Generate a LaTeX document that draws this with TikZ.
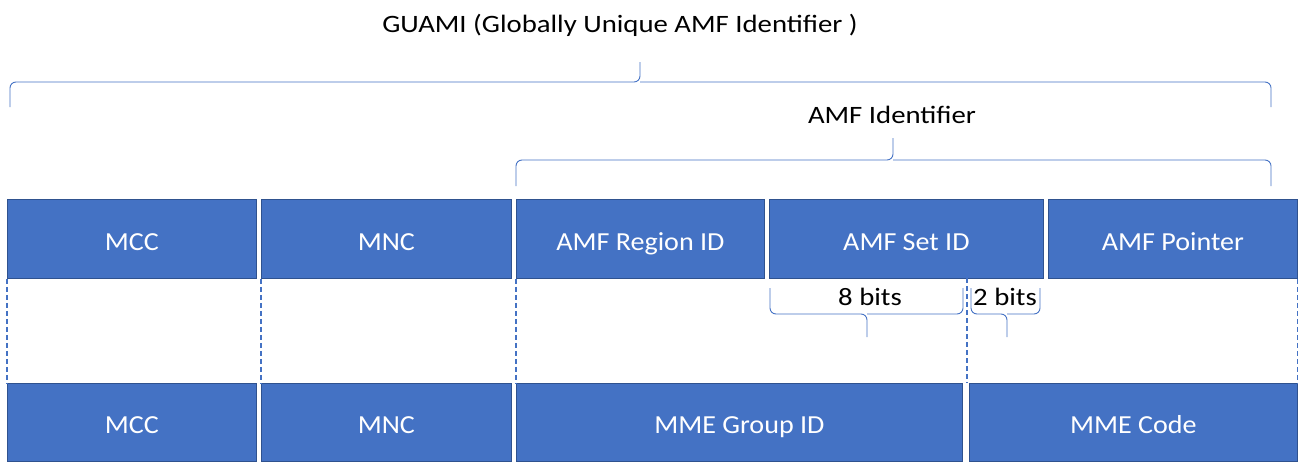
\documentclass[tikz,border=0pt]{standalone}
\usepackage{fontspec}
\setmainfont{Carlito}
\newfontfamily\boxfont[FakeStretch=1.08]{Carlito}
\newfontfamily\lblfont[FakeStretch=1.15]{Carlito}
\definecolor{boxfill}{HTML}{4472C4}
\definecolor{boxline}{HTML}{2F528F}
\definecolor{brc}{HTML}{4472C4}
\begin{document}
\begin{tikzpicture}[x=1pt,y=-1pt,
  fbox/.style={draw=boxline, line width=0.8pt, fill=boxfill, text=white, anchor=north west,
     inner sep=0pt, minimum height=79pt, text height=25pt, text depth=2pt,
     font=\boxfont\fontsize{26}{30}\selectfont},
  lbl/.style={text=black, inner sep=0pt, font=\lblfont\fontsize{25}{30}\selectfont},
  bracel/.style={draw=brc, line width=0.9pt, rounded corners=6pt},
  dashl/.style={draw=brc, line width=1.2pt, dashed, dash pattern=on 5pt off 3pt}]
\useasboundingbox (0,0) rectangle (1299,461);
% top row
\node[fbox, minimum width=249pt] (mcc1) at (7,199) {MCC};
\node[fbox, minimum width=250pt] (mnc1) at (261,199) {MNC};
\node[fbox, minimum width=248pt] (reg) at (516,199) {AMF Region ID};
\node[fbox, minimum width=274pt] (set) at (769,199) {AMF Set ID};
\node[fbox, minimum width=249pt] (ptr) at (1048,199) {AMF Pointer};
% bottom row
\node[fbox, minimum width=249pt, minimum height=78pt] (mcc2) at (7,383) {MCC};
\node[fbox, minimum width=250pt, minimum height=78pt] (mnc2) at (261,383) {MNC};
\node[fbox, minimum width=446pt, minimum height=78pt] (mmeg) at (516,383) {MME Group ID};
\node[fbox, minimum width=328pt, minimum height=78pt] (mmec) at (969,383) {MME Code};
% labels
\node[lbl] (guami) at (620,25) {GUAMI (Globally Unique AMF Identifier )};
\node[lbl] (amfid) at (892,115) {AMF Identifier};
\node[lbl] (b8) at (870,297) {8 bits};
\node[lbl] (b2) at (1005,297) {2 bits};
% dashed guides
\coordinate (d3) at (967,278);
\draw[dashl] (mcc1.south west) -- (mcc2.north west);
\draw[dashl] (mnc1.south west) -- (mnc2.north west);
\draw[dashl] (reg.south west) -- (mmeg.north west);
\draw[dashl] (d3) -- (d3 |- mmeg.north);
\draw[dashl] (ptr.south east) -- (mmec.north east);
% braces
\draw[bracel] (10,107) -- (10,82) -- (640,82) -- (640,62);
\draw[bracel] (1271,107) -- (1271,82) -- (640,82);
\draw[bracel] (516,186) -- (516,160) -- (893,160) -- (893,138);
\draw[bracel] (1271,186) -- (1271,160) -- (893,160);
\draw[bracel] (770,288) -- (770,314) -- (867,314) -- (867,337);
\draw[bracel] (963,288) -- (963,314) -- (867,314);
\draw[bracel] (971,288) -- (971,314) -- (1007,314) -- (1007,337);
\draw[bracel] (1040,288) -- (1040,314) -- (1007,314);
\end{tikzpicture}
\end{document}
